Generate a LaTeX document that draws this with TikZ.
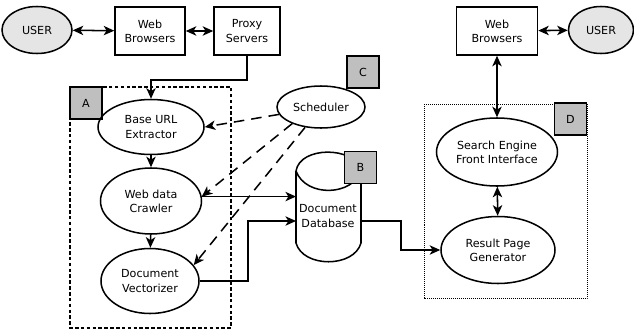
\documentclass[tikz,border=0pt]{standalone}
\usepackage{fontspec}
\setmainfont{DejaVu Sans}
\usetikzlibrary{shapes.geometric,arrows.meta}

\begin{document}
\begin{tikzpicture}[x=0.03cm,y=-0.03cm,line width=1.3pt,>={Stealth[length=9pt,width=8pt,inset=2.5pt]}]
    \tikzstyle{every node}=[font=\fontsize{9.5}{12}\selectfont, align=center, inner sep=0pt]
    \tikzstyle{proc}=[ellipse, draw]
    \tikzstyle{user}=[ellipse, draw, fill=black!10]
    \tikzstyle{box}=[rectangle, draw]
    \tikzstyle{tag}=[rectangle, draw, fill=black!25, minimum size=0.95cm]
    \tikzstyle{ctrl}=[->, dash pattern=on 9pt off 6pt]
    \useasboundingbox (0,0) rectangle (634,331);

    % group frames
    \draw[line width=1pt, dash pattern=on 3pt off 2pt] (70,87) rectangle (231,328);
    \draw[line width=0.7pt, dash pattern=on 0.8pt off 0.9pt] (424,104) rectangle (587,298);

    % document database
    \draw (296,171) .. controls (300,146) and (354,146) .. (361,170)
          (296,171) .. controls (306,198) and (354,196) .. (361,170)
          (296,171) -- (296,243) .. controls (303,268) and (354,268) .. (361,243) -- (361,170);
    \node (db) at (328,216) {Document\\Database};
    \coordinate (dbin1) at (296,198);
    \coordinate (dbin2) at (296,221);
    \coordinate (dbout) at (361,221);

    \node[tag] (tagA) at (86,103) {A};
    \node[tag] (tagB) at (360.5,167.5) {B};
    \node[tag] (tagC) at (363,72) {C};
    \node[tag] (tagD) at (570.5,119) {D};

    \node[user, minimum width=2.1cm, minimum height=1.41cm] (user1) at (37,30) {USER};
    \node[box, minimum width=2.1cm, minimum height=1.44cm] (web1) at (150,31) {Web\\Browsers};
    \node[box, minimum width=1.98cm, minimum height=1.44cm] (proxy) at (247,31) {Proxy\\Servers};
    \node[proc, minimum width=3.18cm, minimum height=1.65cm] (base) at (151,127) {Base URL\\Extractor};
    \node[proc, minimum width=3.03cm, minimum height=1.98cm] (crawl) at (151,201) {Web data\\Crawler};
    \node[proc, minimum width=2.94cm, minimum height=1.95cm] (vec) at (150,281) {Document\\Vectorizer};
    \node[proc, minimum width=2.64cm, minimum height=1.26cm] (sched) at (321,107) {Scheduler};
    \node[proc, minimum width=3.63cm, minimum height=2.04cm] (search) at (497,152) {Search Engine\\Front Interface};
    \node[proc, minimum width=3.42cm, minimum height=2.01cm] (result) at (498,250) {Result Page\\Generator};
    \node[box, minimum width=2.43cm, minimum height=1.44cm] (web2) at (497,31) {Web\\Browsers};
    \node[user, minimum width=1.95cm, minimum height=1.41cm] (user2) at (601,30) {USER};

    \draw[<->] (user1) -- (web1);
    \draw[<->] (web1) -- (proxy);
    \draw[->] (proxy.south) -- ++(0,24) -| (base.north);
    \draw[->] (base) -- (crawl);
    \draw[->] (crawl) -- (vec);
    \draw[->] (crawl.5) -- (crawl.5 -| dbin1);
    \draw[->] (vec.east) -- ++(48,0) |- (dbin2);
    \draw[->] (dbout) -- ++(40,0) |- (result.west);
    \draw[<->] (web2) -- (user2);
    \draw[<->] (web2) -- (search);
    \draw[<->] (search) -- (result);

    % scheduler control
    \draw[ctrl] (sched.190) -- (base.east);
    \draw[ctrl] (sched.210) -- (crawl.5);
    \draw[ctrl] (sched.232) -- (vec.20);
\end{tikzpicture}
\end{document}
